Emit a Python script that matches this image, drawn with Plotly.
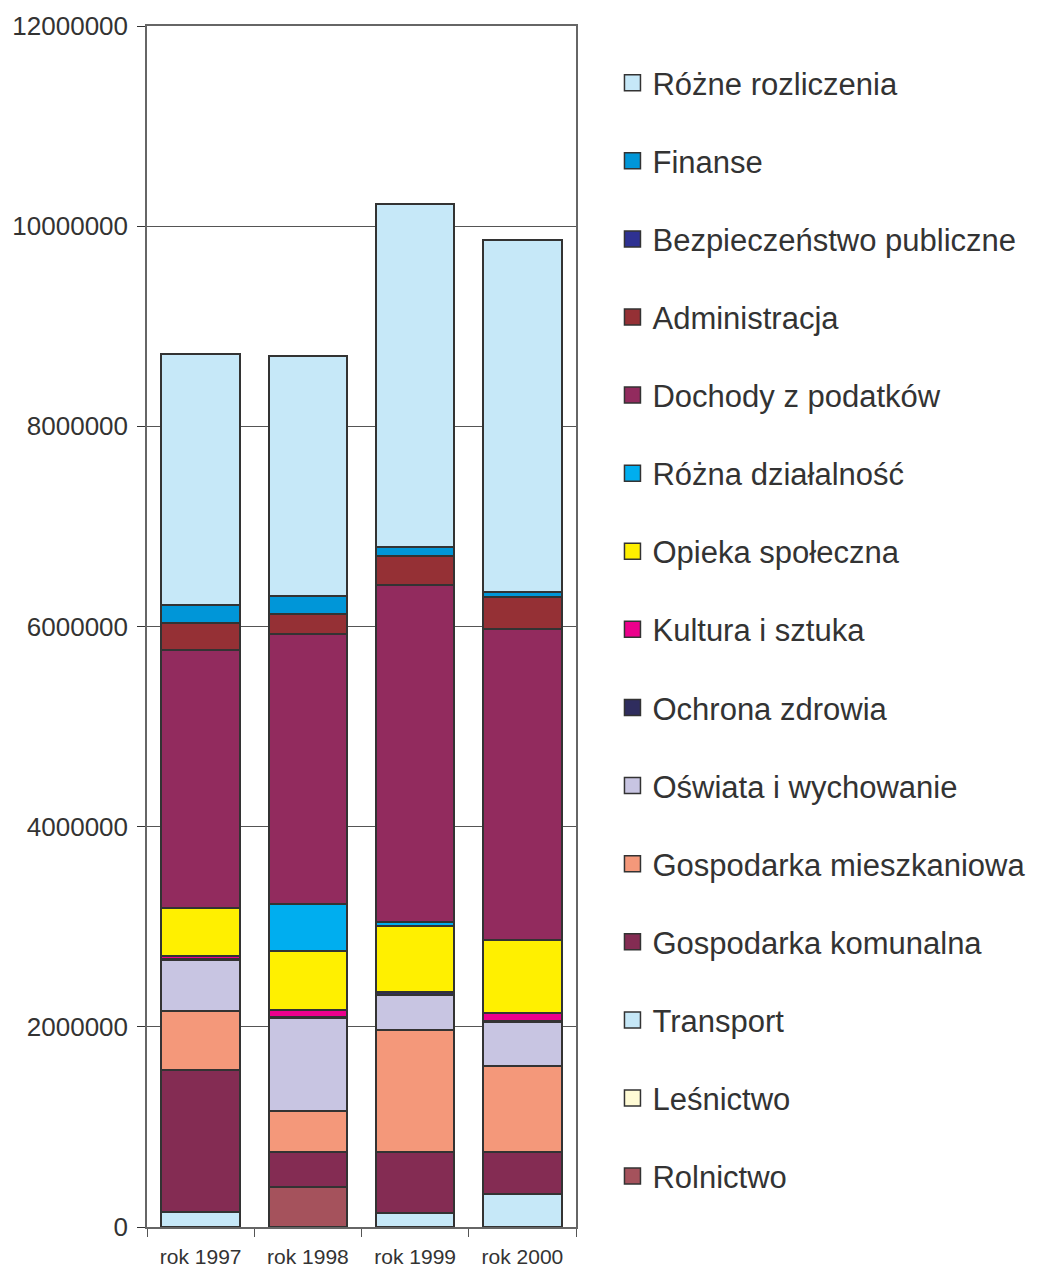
import plotly.graph_objects as go

years = ["rok 1997", "rok 1998", "rok 1999", "rok 2000"]

# series listed bottom to top of the stack
rolnictwo = [0, 400000, 0, 0]
lesnictwo = [0, 0, 0, 0]
transport = [145000, 0, 140000, 330000]
gosp_komunalna = [1425000, 350000, 610000, 420000]
gosp_mieszkaniowa = [590000, 410000, 1220000, 860000]
oswiata = [510000, 930000, 350000, 440000]
ochrona_zdrowia = [10000, 5000, 30000, 5000]
kultura = [30000, 70000, 0, 80000]
opieka = [480000, 590000, 660000, 730000]
rozna_dzialalnosc = [0, 470000, 40000, 0]
dochody = [2580000, 2700000, 3360000, 3110000]
administracja = [270000, 200000, 290000, 320000]
bezpieczenstwo = [0, 0, 0, 0]
finanse = [170000, 180000, 90000, 50000]
rozne_rozliczenia = [2510000, 2400000, 3430000, 3520000]

series = [
    ("Rolnictwo", rolnictwo, "#A5525C"),
    ("Leśnictwo", lesnictwo, "#FFFBD5"),
    ("Transport", transport, "#C6E8F8"),
    ("Gospodarka komunalna", gosp_komunalna, "#842C53"),
    ("Gospodarka mieszkaniowa", gosp_mieszkaniowa, "#F4987A"),
    ("Oświata i wychowanie", oswiata, "#C8C5E2"),
    ("Ochrona zdrowia", ochrona_zdrowia, "#2F2D5E"),
    ("Kultura i sztuka", kultura, "#EC008C"),
    ("Opieka społeczna", opieka, "#FFF000"),
    ("Różna działalność", rozna_dzialalnosc, "#00AEEF"),
    ("Dochody z podatków", dochody, "#922B5E"),
    ("Administracja", administracja, "#953035"),
    ("Bezpieczeństwo publiczne", bezpieczenstwo, "#2E3192"),
    ("Finanse", finanse, "#0096D8"),
    ("Różne rozliczenia", rozne_rozliczenia, "#C6E8F8"),
]

FONT = "Arial, Liberation Sans, sans-serif"
EDGE = "#333333"

fig = go.Figure()
for i, (name, values, color) in enumerate(series):
    fig.add_trace(go.Bar(
        x=years, y=values, name=name, legendgroup=name, showlegend=False,
        marker=dict(color=color, line=dict(color=EDGE, width=2)),
    ))
    # legend-only square swatch (bar legend symbols are small)
    fig.add_trace(go.Scatter(
        x=[None], y=[None], mode="markers", name=name, legendgroup=name,
        legendrank=1000 - i, hoverinfo="skip",
        marker=dict(symbol="square", size=18, color=color, line=dict(color=EDGE, width=1.5)),
    ))

fig.update_layout(
    barmode="stack",
    bargap=0.27,
    width=1042,
    height=1269,
    margin=dict(l=139, r=474, t=18, b=50, autoexpand=False),
    paper_bgcolor="white",
    plot_bgcolor="white",
    font=dict(family=FONT, color="#333333"),
    showlegend=True,
    legend=dict(
        traceorder="grouped",
        tracegroupgap=34.8,
        x=1.085, xanchor="left",
        y=0.975, yanchor="top",
        font=dict(size=31, family=FONT, color="#333333"),
        itemwidth=30,
    ),
)
fig.update_yaxes(
    range=[0, 12000000],
    dtick=2000000,
    tickformat="d",
    showgrid=True, gridcolor="#555555", gridwidth=1,
    ticks="outside", ticklen=8, tickcolor="#333333",
    tickfont=dict(size=26, color="#333333"),
    ticklabelstandoff=4,
    showline=True, linecolor="#666666", linewidth=1.5, mirror=True,
    zeroline=False,
)
fig.update_xaxes(
    tickson="boundaries", ticks="outside", ticklen=8, tickcolor="#555555",
    tickfont=dict(size=21, color="#333333"),
    ticklabelstandoff=10,
    showline=True, linecolor="#666666", linewidth=1.5, mirror=True,
)

fig.write_html("out.html")
